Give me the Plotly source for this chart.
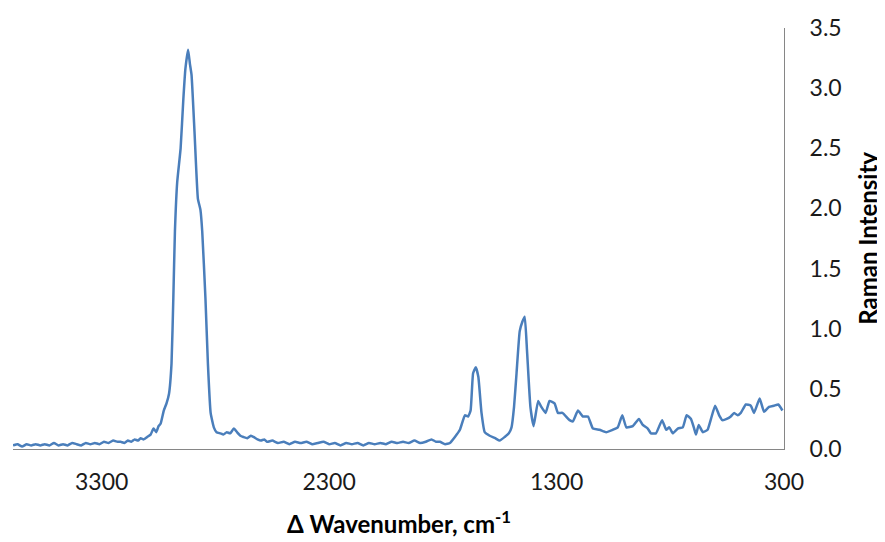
import plotly.graph_objects as go

# Raman spectrum
wavenumber = [
    3690, 3670, 3650, 3630, 3610, 3590, 3570, 3550, 3530, 3510, 3490, 3470, 3450, 3430,
    3410, 3390, 3370, 3350, 3330, 3310, 3290, 3270, 3250, 3230, 3217, 3200, 3185, 3170,
    3155, 3140, 3129, 3115, 3100, 3085, 3072, 3060, 3050, 3041, 3027, 3015, 3004, 2993,
    2985, 2978, 2968, 2953, 2941, 2932, 2920, 2912, 2905, 2892, 2877, 2866, 2858, 2844,
    2833, 2821, 2807, 2795, 2778, 2765, 2750, 2735, 2719, 2705, 2690, 2677, 2660, 2645,
    2633, 2615, 2600, 2585, 2573, 2550, 2525, 2500, 2475, 2450, 2425, 2400, 2375, 2350,
    2325, 2300, 2275, 2250, 2225, 2200, 2175, 2150, 2125, 2100, 2075, 2050, 2025, 2000,
    1975, 1950, 1925, 1900, 1875, 1850, 1830, 1813, 1790, 1769, 1747, 1725, 1703, 1689,
    1678, 1667, 1655, 1644, 1630, 1616, 1594, 1570, 1550, 1528, 1510, 1498, 1487, 1476,
    1462, 1450, 1440, 1430, 1415, 1401, 1381, 1367, 1348, 1331, 1309, 1294, 1274, 1243,
    1228, 1206, 1184, 1162, 1140, 1111, 1082, 1053, 1031, 1011, 993, 965, 938, 921,
    899, 885, 863, 836, 818, 804, 789, 767, 745, 728, 709, 695, 687, 675,
    657, 636, 621, 603, 585, 571, 552, 534, 519, 504, 490, 468, 446, 432,
    407, 388, 366, 344, 325, 307,
]
intensity = [
    0.03, 0.04, 0.02, 0.04, 0.03, 0.04, 0.03, 0.04, 0.03, 0.05, 0.03, 0.04, 0.03, 0.05,
    0.04, 0.03, 0.05, 0.04, 0.05, 0.04, 0.06, 0.05, 0.07, 0.06, 0.06, 0.05, 0.07, 0.06,
    0.08, 0.07, 0.09, 0.08, 0.10, 0.12, 0.17, 0.14, 0.19, 0.21, 0.32, 0.38, 0.46, 0.71,
    1.26, 1.81, 2.22, 2.50, 2.91, 3.16, 3.32, 3.20, 3.11, 2.64, 2.08, 1.99, 1.81, 1.26,
    0.71, 0.30, 0.18, 0.14, 0.13, 0.12, 0.14, 0.13, 0.17, 0.14, 0.11, 0.10, 0.09, 0.11,
    0.10, 0.08, 0.07, 0.08, 0.06, 0.07, 0.05, 0.06, 0.04, 0.06, 0.05, 0.06, 0.04, 0.05,
    0.06, 0.04, 0.05, 0.03, 0.05, 0.04, 0.05, 0.03, 0.05, 0.04, 0.05, 0.04, 0.06, 0.05,
    0.06, 0.05, 0.07, 0.05, 0.06, 0.08, 0.06, 0.06, 0.04, 0.05, 0.10, 0.16, 0.28, 0.27,
    0.32, 0.63, 0.68, 0.60, 0.30, 0.14, 0.11, 0.09, 0.07, 0.10, 0.13, 0.18, 0.35, 0.63,
    0.98, 1.06, 1.10, 0.82, 0.35, 0.19, 0.40, 0.35, 0.30, 0.40, 0.38, 0.30, 0.30, 0.24,
    0.23, 0.32, 0.27, 0.27, 0.17, 0.16, 0.14, 0.16, 0.18, 0.28, 0.18, 0.19, 0.25, 0.20,
    0.17, 0.13, 0.13, 0.24, 0.16, 0.18, 0.13, 0.17, 0.18, 0.28, 0.25, 0.17, 0.12, 0.20,
    0.14, 0.16, 0.25, 0.36, 0.28, 0.24, 0.25, 0.27, 0.30, 0.28, 0.30, 0.37, 0.36, 0.30,
    0.42, 0.31, 0.35, 0.36, 0.37, 0.32,
]
x_ticks = [3300, 2300, 1300, 300]
y_ticks = [0.0, 0.5, 1.0, 1.5, 2.0, 2.5, 3.0, 3.5]

FONT = "Lato"
fig = go.Figure()
fig.add_trace(go.Scatter(
    x=wavenumber, y=intensity, mode="lines",
    line=dict(color="#4A7EBB", width=2.5, shape="spline", smoothing=0.4),
    showlegend=False, hoverinfo="skip",
))

fig.update_layout(
    width=877, height=534,
    margin=dict(l=5, r=101, t=17, b=93),
    paper_bgcolor="white", plot_bgcolor="white",
    font=dict(family=FONT, color="#000000"),
    xaxis=dict(
        range=[3690, 300], tickvals=x_ticks, ticktext=[str(v) for v in x_ticks],
        showgrid=False, zeroline=False, showline=True, linecolor="#868686", linewidth=1,
        ticks="", tickfont=dict(size=23, family=FONT, color="#1a1a1a"),
        ticklabelstandoff=12,
    ),
    yaxis=dict(
        range=[0, 3.5], tickvals=y_ticks, tickformat=".1f", side="right",
        showgrid=False, zeroline=False, showline=True, linecolor="#868686", linewidth=1,
        ticks="", tickfont=dict(size=23, family=FONT, color="#1a1a1a"),
        ticklabelstandoff=20,
    ),
    annotations=[
        dict(text="<b>Δ Wavenumber, cm<sup>-1</sup></b>", xref="paper", yref="paper",
             x=0.5, y=-0.1745, xanchor="center", yanchor="middle", showarrow=False,
             font=dict(size=24, family=FONT, color="#000000")),
        dict(text="<b>Raman Intensity</b>", xref="paper", yref="paper",
             x=1.108, y=0.5, xanchor="center", yanchor="middle", showarrow=False,
             textangle=-90, font=dict(size=24, family=FONT, color="#000000")),
    ],
)

fig.write_html("out.html")
